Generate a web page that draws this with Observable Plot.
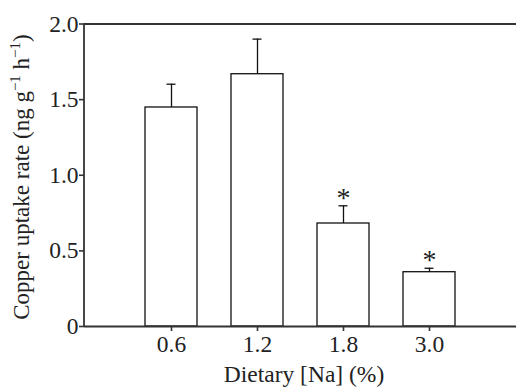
<!DOCTYPE html>
<html><head><meta charset="utf-8">
<script src="https://cdn.jsdelivr.net/npm/d3@7"></script>
<script src="https://cdn.jsdelivr.net/npm/@observablehq/plot@0.6"></script>
<style>body{margin:0;background:#fff}</style>
</head><body><div id="chart"></div>
<script>
const doses = ["0.6", "1.2", "1.8", "3.0"];
const means = [1.448, 1.668, 0.681, 0.359];
const upper = [1.602, 1.900, 0.798, 0.385];
const significant = [false, false, true, true];
const yTicks = [0, 0.5, 1.0, 1.5, 2.0];

const data = doses.map((d, i) => ({dose: d, mean: means[i], upper: upper[i], sig: significant[i]}));

const font = "'Liberation Serif', 'Times New Roman', serif";
const chart = Plot.plot({
  width: 516, height: 388,
  marginLeft: 84, marginRight: 0, marginTop: 23.5, marginBottom: 62,
  style: {fontFamily: font, fontSize: "23.5px", color: "#222", background: "#fff"},
  x: {domain: doses, padding: 0.4, paddingOuter: 0.7, label: null},
  y: {domain: [0, 2], label: null},
  marks: [
    Plot.barY(data, {x: "dose", y: "mean", fill: "white", stroke: "#111", strokeWidth: 1.3}),
    Plot.ruleX(data, {x: "dose", y1: "mean", y2: "upper", stroke: "#111", strokeWidth: 1.3}),
    Plot.tickY(data, {x: "dose", y: "upper", insetLeft: 21.5, insetRight: 21.5, stroke: "#111", strokeWidth: 1.3}),
    Plot.text(data.filter(d => d.sig), {x: "dose", y: "upper", text: () => "*", dy: -8, fontSize: 28, fill: "#222"}),
    Plot.ruleY([0], {stroke: "#333", strokeWidth: 1.8}),
    Plot.ruleY([2], {stroke: "#333", strokeWidth: 1.8}),
    Plot.axisY({ticks: yTicks, tickFormat: d => d === 0 ? "0" : d.toFixed(1), tickSize: 5, tickPadding: 1, stroke: "#333", strokeWidth: 1.6, label: null}),
    Plot.axisX({tickSize: 5, tickPadding: 4, stroke: "#333", strokeWidth: 1.6, label: null})
  ]
});
document.getElementById("chart").appendChild(chart);

const svg = d3.select(chart);
const ys = chart.scale("y");
// left axis line
svg.append("line")
  .attr("x1", 84).attr("x2", 84)
  .attr("y1", ys.apply(2)).attr("y2", ys.apply(0))
  .attr("stroke", "#333").attr("stroke-width", 1.8);

// y label with superscripts
const yl = svg.append("text")
  .attr("transform", `translate(29,177) rotate(-90)`)
  .attr("text-anchor", "middle")
  .attr("font-family", font).attr("font-size", 23).attr("fill", "#222");
yl.append("tspan").text("Copper uptake rate (ng g");
yl.append("tspan").attr("dy", -9).attr("font-size", 15).text("\u22121");
yl.append("tspan").attr("dy", 9).text(" h");
yl.append("tspan").attr("dy", -9).attr("font-size", 15).text("\u22121");
yl.append("tspan").attr("dy", 9).text(")");

// x label
svg.append("text")
  .attr("x", 304).attr("y", 382)
  .attr("text-anchor", "middle")
  .attr("font-family", font).attr("font-size", 23.5).attr("fill", "#222")
  .text("Dietary [Na] (%)");
</script>
</body></html>
